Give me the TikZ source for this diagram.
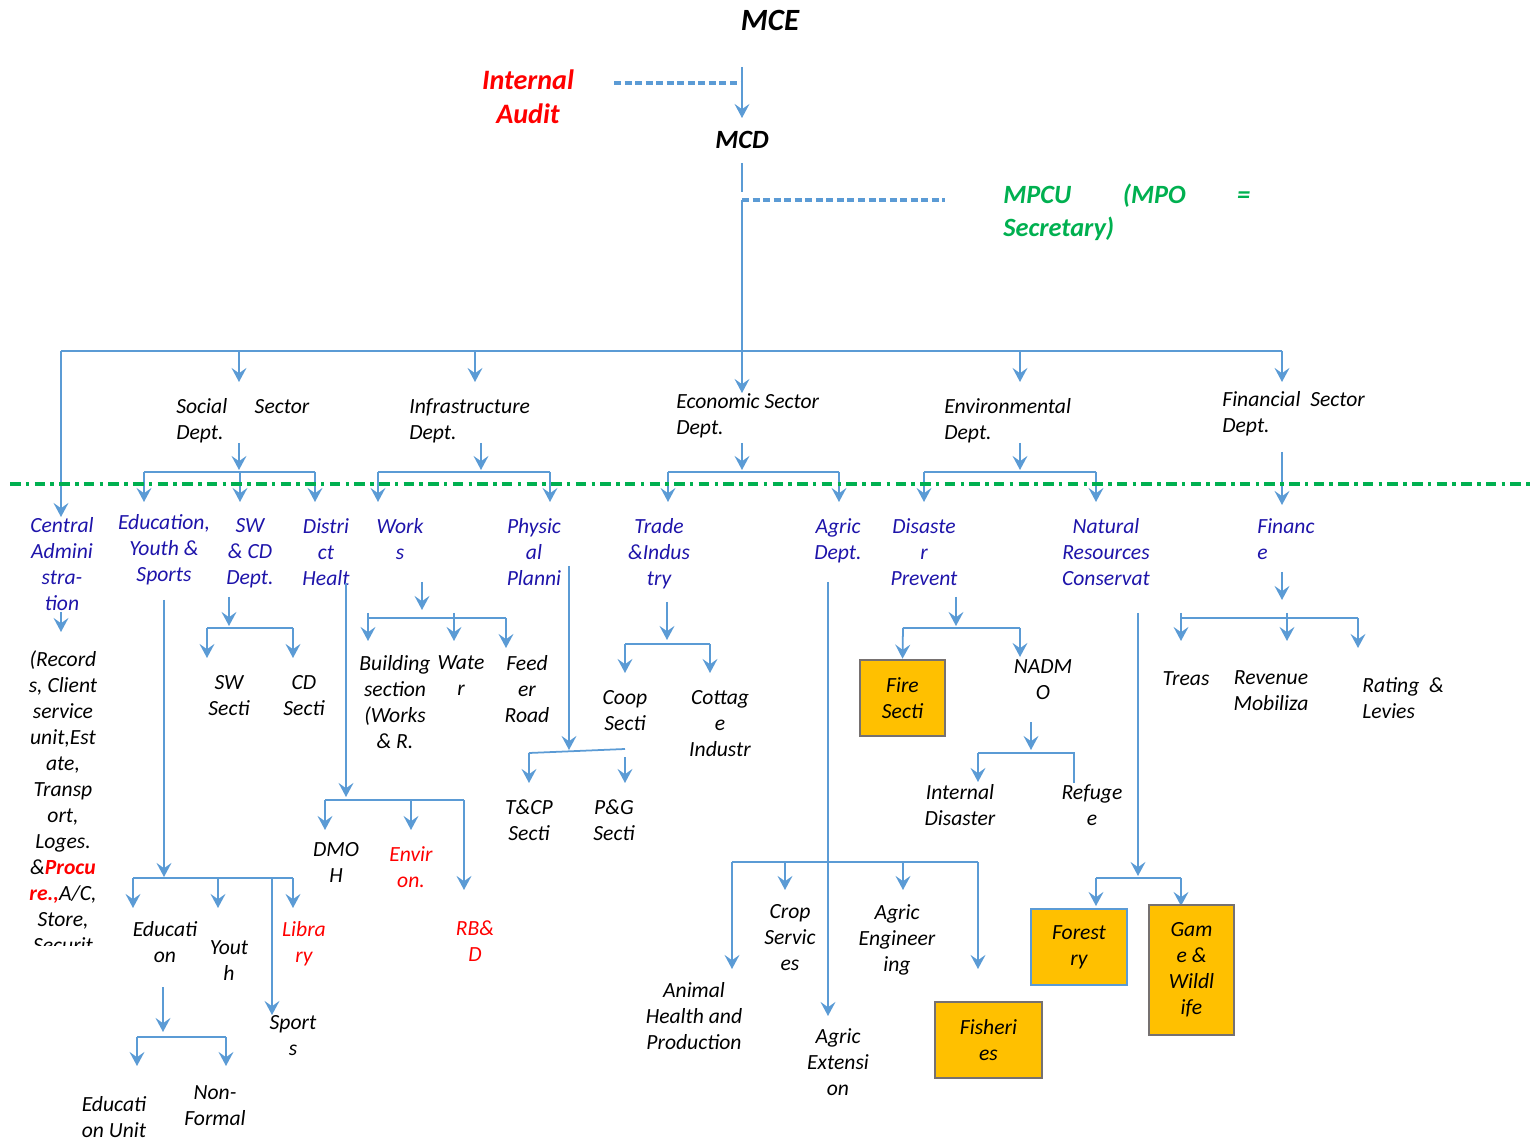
\documentclass[tikz,border=0pt]{standalone}
\usepackage{fontspec}
\setmainfont{Carlito}
\usepackage{tikz}
\usetikzlibrary{arrows.meta}
\hyphenpenalty=10000
\exhyphenpenalty=10000

\definecolor{lineblue}{HTML}{5B9BD5}
\definecolor{deptblue}{RGB}{30,20,170}
\definecolor{boxorange}{HTML}{FFC000}
\definecolor{boxgray}{HTML}{767171}
\definecolor{mpcugreen}{HTML}{00B050}

\tikzset{
	every node/.style={font=\itshape\fontsize{12.3}{14.8}\selectfont, align=center, inner sep=0pt, anchor=north},
	link/.style={draw=lineblue, line width=1pt},
	arr/.style={link, -{Stealth[length=8pt, width=8.5pt, inset=3pt]}},
	dashlink/.style={draw=lineblue, line width=1.8pt, dash pattern=on 4pt off 2pt},
	dept/.style={text=deptblue},
	redunit/.style={text=red},
	sector/.style={anchor=north west, align=left},
	unitbox/.style={draw=boxgray, fill=boxorange, line width=1.5pt, anchor=center},
}

\begin{document}
\begin{tikzpicture}[x=0.02cm, y=-0.02cm]
					\useasboundingbox (0,0) rectangle (1538,1141);
					% Top of the chart
					\node (mce) at (770,20) [anchor=center, font=\bfseries\itshape\fontsize{17.6}{20}\selectfont] {MCE};
					\node (audit) at (528,97) [anchor=center, text=red, font=\bfseries\itshape\fontsize{16}{19.5}\selectfont] {Internal\\Audit};
					\node (mcd) at (742,140) [anchor=center, font=\bfseries\itshape\fontsize{15}{17}\selectfont] {MCD};
					\node (mpcu) at (1003,184) [anchor=north west, text=mpcugreen, text width=4.94cm, align=justify, font=\bfseries\itshape\fontsize{15}{18.7}\selectfont] {MPCU (MPO =\linebreak Secretary)};
					\draw[arr, line width=0.6pt] (742,67) -- (742,118);
					\draw[dashlink] (614,83) -- (742,83);
					\draw[link, line width=0.6pt] (742,163) -- (742,192);
					\draw[dashlink] (742,200) -- (945,200);
					\draw[arr, line width=0.6pt] (742,200) -- (742,393);
					% Bus to the sectors
					\draw[link] (61,351) -- (1282,351);
					\draw[arr] (61,351) -- (61,517);
					\foreach \x in {239,475,1020,1282} \draw[arr] (\x,351) -- (\x,382);
					% Sectors
					\node (social) at (176,398) [sector, text width=2.66cm, align=justify] {Social Sector Dept.};
					\node (infra) at (409,398) [sector] {Infrastructure\\Dept.};
					\node (econ) at (676,393) [sector] {Economic Sector\\Dept.};
					\node (environ) at (944,398) [sector] {Environmental\\Dept.};
					\node (financial) at (1222,391) [sector] {Financial~~Sector\\Dept.};
					% Brackets below the sectors
					\foreach \m/\l/\r in {239/144/315, 481/378/550, 742/668/839, 1020/924/1096}{
						\draw[arr] (\m,443) -- (\m,470);
						\draw[link] (\l,472) -- (\r,472);
						\draw[arr] (\l,472) -- (\l,502);
						\draw[arr] (\r,472) -- (\r,502);}
					\draw[arr] (240,472) -- (240,502);
					\draw[arr] (1282,452) -- (1282,505);
					% Dividing line
					\draw[draw=mpcugreen, line width=2pt, dash pattern=on 6pt off 3pt on 2pt off 3pt] (10,484) -- (1530,484);
					% Departments
					\node (cadmin) at (62,517) [dept] {Central\\Admini\\stra-\\tion};
					\node (eduyouth) at (164,514) [dept] {Education,\\Youth \&\\Sports};
					\node (swcd) at (250,518) [dept] {SW\\\& CD\\Dept.};
					\node (dhealth) at (326,518) [dept] {Distri\\ct\\Healt};
					\node (works) at (400,518) [dept] {Work\\s};
					\node (physplan) at (534,518) [dept] {Physic\\al\\Planni};
					\node (trade) at (659,518) [dept] {Trade\\\&Indus\\try};
					\node (agric) at (838,518) [dept] {Agric\\Dept.};
					\node (disaster) at (924,518) [dept] {Disaste\\r\\Prevent};
					\node (natres) at (1106,518) [dept] {Natural\\Resources\\Conservat};
					\node (finance) at (1257,518) [dept, sector] {Financ\\e};
					% Central administration
					\draw[arr] (61,612) -- (61,632);
					\begin{scope}
						\clip (0,640) rectangle (140,945);
						\node (records) at (63,650) {(Record\\s, Client\\service\\unit,Est\\ate,\\Transp\\ort,\\Loges.\\\&{\bfseries\color{red}Procu}\\{\bfseries\color{red}re.,}A/C,\\Store,\\Securit};
					\end{scope}
					% Education, youth and sports
					\draw[arr] (164,600) -- (164,877);
					\draw[link] (133,878) -- (293,878);
					\foreach \x in {133,218,293} \draw[arr] (\x,878) -- (\x,908);
					\draw[arr] (272,878) -- (272,1015);
					\node (educ) at (165,921) {Educati\\on};
					\node (youth) at (229,940) {Yout\\h};
					\node (library) at (304,921) [redunit] {Libra\\ry};
					\node (sports) at (293,1015) {Sport\\s};
					\draw[arr] (163,987) -- (163,1032);
					\draw[link] (137,1037) -- (226,1037);
					\foreach \x in {137,226} \draw[arr] (\x,1037) -- (\x,1066);
					\node (eduunit) at (114,1096) {Educati\\on Unit};
					\node (nonformal) at (215,1085) {Non-\\Formal};
					% SW and CD
					\draw[arr] (229,597) -- (229,626);
					\draw[link] (207,628) -- (293,628);
					\foreach \x in {207,293} \draw[arr] (\x,628) -- (\x,658);
					\node (swsec) at (229,675) {SW\\Secti};
					\node (cdsec) at (304,675) {CD\\Secti};
					% District health
					\draw[arr] (346,583) -- (346,797);
					\draw[link] (325,800) -- (464,800);
					\foreach \x in {325,411} \draw[arr] (\x,800) -- (\x,830);
					\draw[arr] (464,800) -- (464,890);
					\node (dmoh) at (336,842) {DMO\\H};
					\node (envir) at (411,846) [redunit] {Envir\\on.};
					\node (rbd) at (475,920) [redunit] {RB\&\\D};
					% Works
					\draw[arr] (422,582) -- (422,610);
					\draw[link] (368,618) -- (506,618);
					\foreach \x in {368,454} \draw[arr] (\x,613) -- (\x,641);
					\draw[arr] (506,618) -- (506,648);
					\node (building) at (395,655) {Building\\section\\(Works\\\& R.};
					\node (water) at (461,655) {Wate\\r};
					\node (feeder) at (527,655) {Feed\\er\\Road};
					% Physical planning
					\draw[arr] (569,566) -- (569,750);
					\draw[link] (529,753) -- (625,749);
					\draw[arr] (529,753) -- (529,783);
					\draw[arr] (625,757) -- (625,783);
					\node (tcp) at (529,799) {T\&CP\\Secti};
					\node (pg) at (614,799) {P\&G\\Secti};
					% Trade and industry
					\draw[arr] (667,602) -- (667,640);
					\draw[link] (625,644) -- (710,644);
					\foreach \x in {625,710} \draw[arr] (\x,644) -- (\x,673);
					\node (coop) at (625,690) {Coop\\Secti};
					\node (cottage) at (720,690) {Cottag\\e\\Industr};
					% Agriculture
					\draw[arr] (828,582) -- (828,1016);
					\draw[link] (732,862) -- (978,862);
					\foreach \x in {785,903} \draw[arr] (\x,862) -- (\x,890);
					\foreach \x in {732,978} \draw[arr] (\x,862) -- (\x,969);
					\node (animal) at (694,982) {Animal\\Health and\\Production};
					\node (crop) at (790,904) {Crop\\Servic\\es};
					\node (agreng) at (897,904) {Agric\\Engineer\\ing};
					\node (agrext) at (838,1028) {Agric\\Extensi\\on};
					\node (fisheries) at (988.5,1040) [unitbox, minimum width=2.14cm, minimum height=1.52cm] {Fisheri\\es};
					% Disaster prevention
					\draw[arr] (956,597) -- (956,626);
					\draw[link] (903,628) -- (1020,628);
					\draw[arr] (1020,628) -- (1020,657);
					\node (fire) at (902.5,698) [unitbox, minimum width=1.7cm, minimum height=1.52cm] {Fire\\Secti};
					\draw[arr] (903,628) -- (fire.north);
					\node (nadmo) at (1043,659) {NADM\\O};
					\draw[arr] (1031,722) -- (1031,750);
					\draw[link] (978,753) -- (1074,753) -- (1074,783);
					\draw[arr] (978,753) -- (978,782);
					\node (intdis) at (960,784) {Internal\\Disaster};
					\node (refugee) at (1092,784) {Refuge\\e};
					% Natural resources
					\draw[arr] (1138,613) -- (1138,876);
					\draw[link] (1096,878) -- (1181,878);
					\foreach \x in {1096,1181} \draw[arr] (\x,878) -- (\x,906);
					\node (forestry) at (1079,947) [unitbox, draw=lineblue, minimum width=1.92cm, minimum height=1.52cm] {Forest\\ry};
					\node (game) at (1191.5,970) [unitbox, minimum width=1.7cm, minimum height=2.6cm] {Gam\\e \&\\Wildl\\ife};
					% Finance
					\draw[arr] (1282,572) -- (1282,600);
					\draw[link] (1181,618) -- (1358,618);
					\foreach \x in {1181,1287} \draw[arr] (\x,613) -- (\x,641);
					\draw[arr] (1358,618) -- (1358,648);
					\node (treas) at (1186,671) {Treas};
					\node (revenue) at (1271,670) {Revenue\\Mobiliza};
					\node (rating) at (1362,677) [sector] {Rating~~\&\\Levies};
				\end{tikzpicture}
\end{document}
